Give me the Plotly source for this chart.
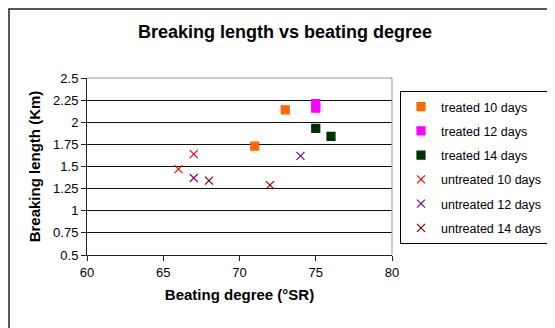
import plotly.graph_objects as go

names = ["treated 10 days", "treated 12 days", "treated 14 days",
         "untreated 10 days", "untreated 12 days", "untreated 14 days"]
xs = [[73, 71], [75, 75], [75, 76], [66, 67], [67, 74], [68, 72]]
ys = [[2.14, 1.73], [2.21, 2.16], [1.93, 1.84], [1.47, 1.64], [1.37, 1.62], [1.34, 1.29]]
colors = ["#FF6600", "#FF00FF", "#003300", "#FF0000", "#800080", "#800000"]
symbols = ["square", "square", "square", "x-thin", "x-thin", "x-thin"]
yticks = [0.5, 0.75, 1, 1.25, 1.5, 1.75, 2, 2.25, 2.5]
xticks = [60, 65, 70, 75, 80]

W, H = 555, 328
OFF = 8  # page offset of the figure in the browser
# target plot area in window pixels: x 87..392, y 78..255
ml = 87 - OFF
mt = 78 - OFF
pw = 392 - 87
ph = 255 - 78
mr = W - ml - pw
mb = H - mt - ph

fig = go.Figure()
for i, n in enumerate(names):
    fig.add_trace(go.Scatter(
        x=xs[i], y=ys[i], mode="markers", name=n, legendgroup=n,
        marker=dict(symbol=symbols[i], size=8, color=colors[i],
                    line=dict(width=1.2, color=colors[i])),
    ))

def px(v):
    return (v - 87) / pw
def py(v):
    return 1 - (v - 78) / ph

fig.update_layout(
    width=W, height=H,
    margin=dict(l=ml, r=mr, t=mt, b=mb, autoexpand=False),
    paper_bgcolor="white", plot_bgcolor="white",
    font=dict(family="Liberation Sans, Arial", size=13, color="black"),
    title=dict(text="<b>Breaking length vs beating degree</b>", x=(285 - OFF) / W, xanchor="center",
               y=1 - (32 - OFF) / H, yanchor="middle", font=dict(size=18)),
    xaxis=dict(range=[60, 80], tickvals=xticks, showgrid=False, zeroline=False, automargin=False,
               showline=True, linecolor="#222", linewidth=1, ticks="outside", ticklen=5,
               tickcolor="#222",
               title=dict(text="<b>Beating degree (°SR)</b>", standoff=10, font=dict(size=15))),
    yaxis=dict(range=[0.5, 2.5], tickvals=yticks, automargin=False,
               ticktext=["0.5", "0.75", "1", "1.25", "1.5", "1.75", "2", "2.25", "2.5"],
               showgrid=True, gridcolor="#111", gridwidth=1, zeroline=False,
               showline=True, linecolor="#222", linewidth=1, ticks="outside", ticklen=5,
               tickcolor="#222",
               title=dict(text="<b>Breaking length (Km)</b>", standoff=8, font=dict(size=15))),
    legend=dict(x=px(400), xanchor="left", y=py(91), yanchor="top",
                bordercolor="black", borderwidth=1,
                bgcolor="white", tracegroupgap=5, font=dict(size=12.5), itemwidth=30),
    shapes=[
        dict(type="rect", xref="paper", yref="paper", x0=px(9), x1=px(W + 30), y0=py(H + 30), y1=py(9),
             line=dict(color="#222", width=1.5), fillcolor="rgba(0,0,0,0)", layer="below"),
        dict(type="line", xref="paper", yref="paper", x0=0, x1=1, y0=1, y1=1,
             line=dict(color="#999", width=1)),
        dict(type="line", xref="paper", yref="paper", x0=1, x1=1, y0=0, y1=1,
             line=dict(color="#999", width=1)),
    ],
)

fig.write_html("out.html")
